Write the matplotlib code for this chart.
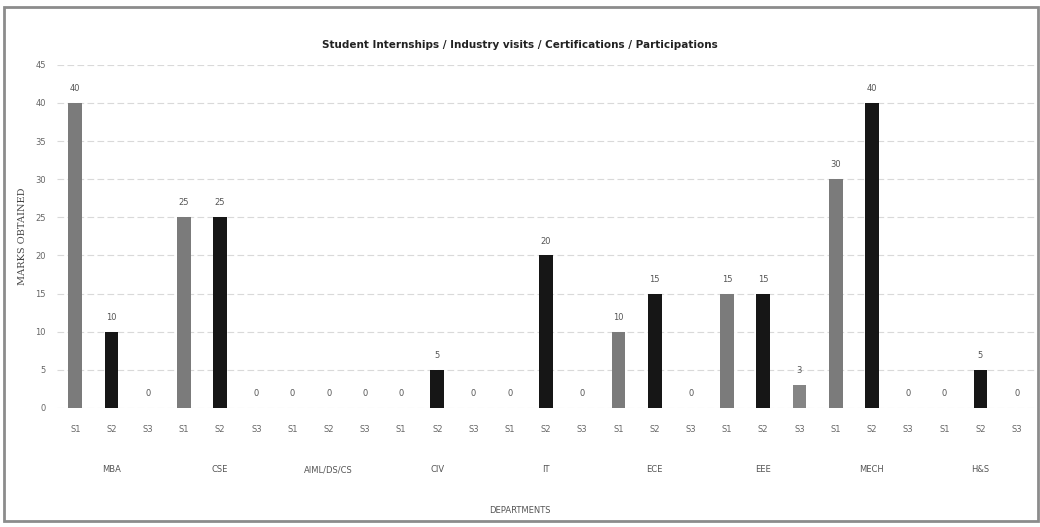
import numpy as np
import matplotlib
matplotlib.use("Agg")
import matplotlib.pyplot as plt
from matplotlib.patches import Rectangle

departments = ["MBA", "CSE", "AIML/DS/CS", "CIV", "IT", "ECE", "EEE", "MECH", "H&S"]
semesters = ["S1", "S2", "S3"]

s1_values = [40, 25, 0, 0, 0, 10, 15, 30, 0]
s2_values = [10, 25, 0, 5, 20, 15, 15, 40, 5]
s3_values = [0, 0, 0, 0, 0, 0, 3, 0, 0]

bar_colors = {"S1": "#7b7b7b", "S2": "#161616", "S3": "#858585"}

# one bar per department/semester slot
values = []
labels = []
colors = []
for d in range(len(departments)):
    for s, series in zip(semesters, [s1_values, s2_values, s3_values]):
        values.append(series[d])
        labels.append(s)
        colors.append(bar_colors[s])
x = np.arange(len(values))

fig = plt.figure(figsize=(10.4, 5.27), dpi=100)
ax = fig.add_axes([0.055, 0.226, 0.94, 0.651])

ax.bar(x, values, width=0.38, color=colors, zorder=3)
for xi, v in zip(x, values):
    ax.text(xi, v + 1.3, str(v), ha="center", va="bottom", fontsize=6, color="#555555")

ax.set_xlim(-0.5, len(values) - 0.5)
ax.set_ylim(0, 45)
ax.set_yticks(np.arange(0, 46, 5))
ax.set_xticks(x)
ax.set_xticklabels(labels)
ax.tick_params(axis="both", length=0, labelsize=6, colors="#666666")
ax.tick_params(axis="x", pad=12)
ax.tick_params(axis="y", pad=8)
ax.grid(axis="y", color="#d9d9d9", linewidth=0.8, linestyle=(0, (6, 3)), zorder=0)
for sp in ax.spines.values():
    sp.set_visible(False)

for d, name in enumerate(departments):
    ax.text(3 * d + 1, -0.18, name, transform=ax.get_xaxis_transform(),
            ha="center", va="center", fontsize=6, color="#555555")

ax.set_ylabel("MARKS OBTAINED", fontsize=7, color="#444444", family="DejaVu Serif", labelpad=6)
fig.text(0.5, 0.032, "DEPARTMENTS", ha="center", va="center", fontsize=6, color="#555555")
fig.text(0.5, 0.915, "Student Internships / Industry visits / Certifications / Participations",
         ha="center", va="center", fontsize=7.5, fontweight="bold", color="#222222")

# scanned chart frame
fig.patches.append(Rectangle((0.004, 0.012), 0.994, 0.975, transform=fig.transFigure,
                             fill=False, edgecolor="#8c8c8c", linewidth=2))

fig.savefig("out.png", dpi=100)
